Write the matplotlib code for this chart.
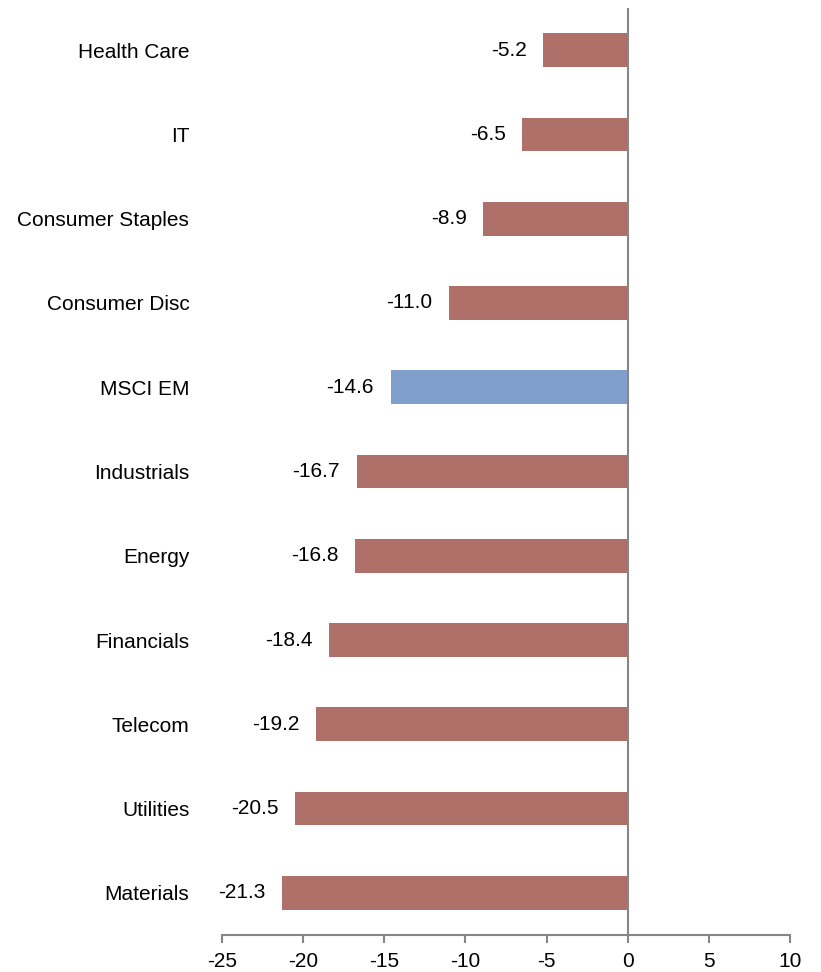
import matplotlib.pyplot as plt

plt.rcParams['font.family'] = ['Liberation Sans', 'DejaVu Sans']
plt.rcParams['axes.unicode_minus'] = False

categories = ['Health Care', 'IT', 'Consumer Staples', 'Consumer Disc', 'MSCI EM',
              'Industrials', 'Energy', 'Financials', 'Telecom', 'Utilities', 'Materials']
values = [-5.2, -6.5, -8.9, -11.0, -14.6, -16.7, -16.8, -18.4, -19.2, -20.5, -21.3]
highlight = 'MSCI EM'

red = '#ae7068'
blue = '#819fcb'
grey = '#868686'
fs = 15

fig = plt.figure(figsize=(8.21, 9.72), dpi=100)
ax = fig.add_axes([0.2704, 0.0381, 0.6918, 0.9537])

pos = list(range(len(categories)))
colors = [blue if c == highlight else red for c in categories]
ax.barh(pos, values, height=0.4, color=colors, zorder=2)

for p, v in zip(pos, values):
    ax.annotate(f'{v:.1f}', (v, p), xytext=(-12, 0), textcoords='offset points',
                ha='right', va='center', fontsize=fs)

ax.axvline(0, color=grey, lw=1.5, zorder=3)

ax.set_xlim(-25, 10)
ax.set_ylim(len(categories) - 0.5, -0.5)
ax.set_xticks(range(-25, 11, 5))
ax.set_yticks(pos)
ax.set_yticklabels(categories)

for s in ['top', 'right', 'left']:
    ax.spines[s].set_visible(False)
ax.spines['bottom'].set_color(grey)
ax.spines['bottom'].set_linewidth(1.5)

ax.tick_params(axis='y', left=False, pad=20, labelsize=fs)
ax.tick_params(axis='x', direction='out', length=6, width=1.5, color=grey, pad=6, labelsize=fs)

fig.savefig('out.png', dpi=100)
